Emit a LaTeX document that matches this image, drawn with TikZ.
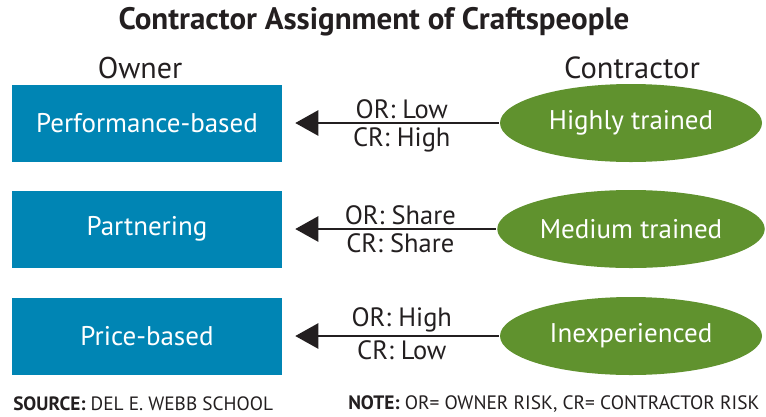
\documentclass[tikz,border=0pt]{standalone}
\usepackage{fontspec}
\setmainfont{PT Sans}
\usetikzlibrary{arrows.meta, shapes.geometric}
\definecolor{ownerblue}{RGB}{0,133,180}
\definecolor{trainedgreen}{RGB}{96,146,46}
\definecolor{inkgray}{RGB}{35,31,32}
\begin{document}
\begin{tikzpicture}[x = 1pt, y = -1pt, line width = 2.5pt,
                        owner/.style = {rectangle, fill=ownerblue, text=white, minimum width = 270pt, minimum height = 77pt, font=\fontsize{27}{30}\selectfont},
                        crafts/.style = {ellipse, fill=trainedgreen, text=white, minimum width = 262pt, minimum height = 78pt, font=\fontsize{27}{30}\selectfont},
                        risk/.style = {text=inkgray, inner sep=3pt, font=\fontsize{26.5}{30}\selectfont},
                        link/.style = {draw=inkgray, -{Triangle[length=23pt, width=25pt]}, shorten >= 12pt}]
      \useasboundingbox (0, 0) rectangle (766, 416);
      \node [text=inkgray, font=\fontsize{31}{36}\selectfont\bfseries] (title) at (374, 22){Contractor Assignment of Craftspeople};
      \node [text=inkgray, font=\fontsize{30}{34}\selectfont] (owner) at (140, 68){Owner};
      \node [text=inkgray, font=\fontsize{30.5}{34}\selectfont] (contractor) at (632, 68){Contractor};
      \node [owner] (PB) at (147, 123){Performance-based};
      \node [owner] (PA) at (147, 229){Partnering};
      \node [owner] (PR) at (147, 336){Price-based};
      \node [crafts] (HT) at (631, 123){Highly trained};
      \node [crafts] (MT) at (631, 229){Medium trained};
      \node [crafts] (IE) at (631, 336){Inexperienced};
      \draw [link] (HT) -- (PB) node [risk, above, pos=0.45]{OR: Low} node [risk, below, pos=0.45]{CR: High};
      \draw [link] (MT) -- (PA) node [risk, above, pos=0.45]{OR: Share} node [risk, below, pos=0.45]{CR: Share};
      \draw [link] (IE) -- (PR) node [risk, above, pos=0.45]{OR: High} node [risk, below, pos=0.45]{CR: Low};
      \node [text=inkgray, anchor=west, inner sep=0pt, font=\fontsize{19.3}{22}\selectfont] (source) at (12, 404){\textbf{SOURCE:} DEL E. WEBB SCHOOL};
      \node [text=inkgray, anchor=west, inner sep=0pt, font=\fontsize{19.4}{22}\selectfont] (note) at (347, 404){\textbf{NOTE:} OR= OWNER RISK, CR= CONTRACTOR RISK};
    \end{tikzpicture}
\end{document}
